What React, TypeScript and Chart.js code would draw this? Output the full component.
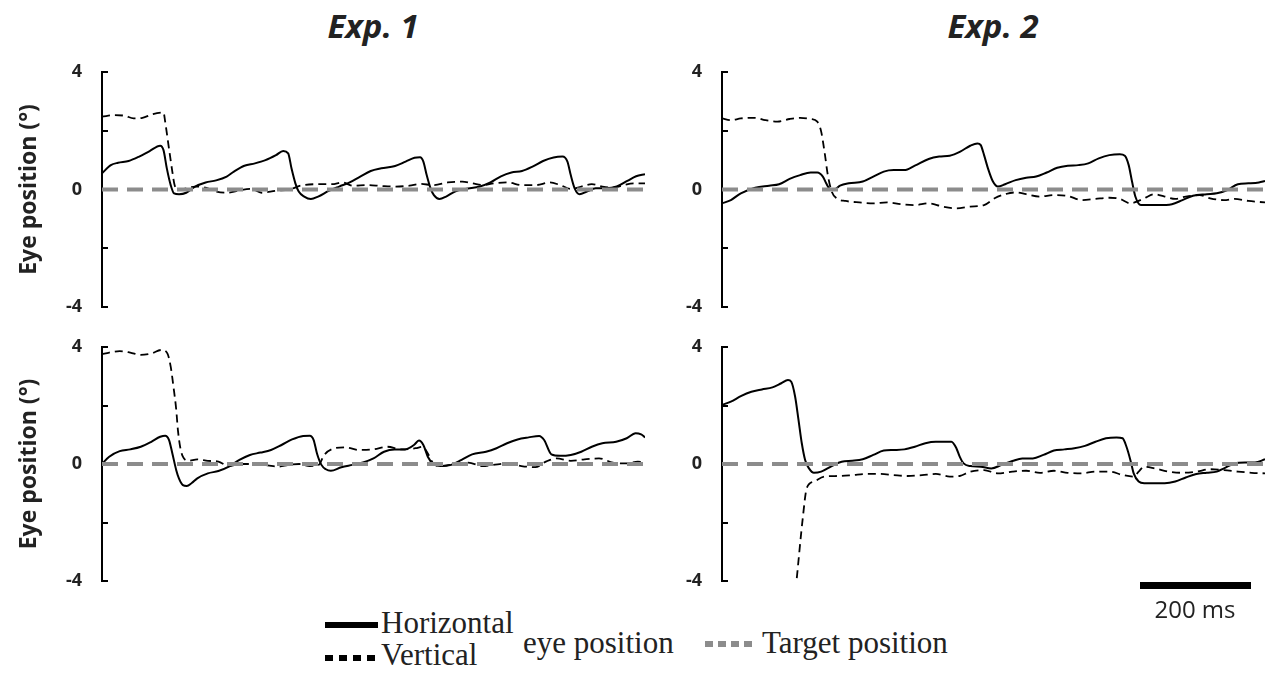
import React, { useEffect, useRef } from 'react';
import { Chart, registerables } from 'chart.js';

Chart.register(...registerables);

// ---------- data (time in ms, eye position in degrees) ----------
const TIME_MAX = 980;
const Y_TICK_VALUES = [4, 2, 0, -2, -4];
const Y_TICK_LABELS: Record<string, string> = { '4': '4', '2': '', '0': '0', '-2': '', '-4': '-4' };
const PANEL_TITLES = ['Exp. 1', 'Exp. 2'];
const Y_TITLE = 'Eye position (°)';
const SCALE_BAR_LABEL = '200 ms';
const LEGEND_LABELS = ['Horizontal', 'Vertical', 'eye position', 'Target position'];

const TARGET_T = [0, 980];
const TARGET_V = [0, 0];

// Exp. 1, top
const E1A_H_T = [0,16,29,48,67,86,105,111,117,124,130,139,152,168,187,206,225,238,257,276,295,314,327,336,342,349,355,365,377,390,409,428,447,466,485,504,529,548,564,574,580,586,593,599,609,621,637,656,682,701,720,739,758,777,796,815,831,840,846,853,862,875,891,910,929,948,964,980];
const E1A_H_V = [0.55,0.83,0.91,0.97,1.12,1.31,1.49,1.34,0.72,0.15,-0.13,-0.16,-0.11,0.1,0.24,0.31,0.44,0.61,0.81,0.89,1.0,1.17,1.31,1.23,0.72,0.21,-0.07,-0.24,-0.32,-0.24,-0.05,0.1,0.24,0.44,0.63,0.72,0.8,0.95,1.08,1.1,0.95,0.49,0.04,-0.19,-0.32,-0.24,-0.07,0.02,0.1,0.24,0.45,0.58,0.63,0.78,0.97,1.09,1.12,0.95,0.49,0.04,-0.16,-0.07,0.04,0.04,0.1,0.29,0.45,0.52];
const E1A_V_T = [0,22,41,57,73,92,111,114,120,127,131,139,152,168,187,206,225,250,269,288,314,339,358,390,415,434,453,479,504,529,555,574,599,624,650,669,688,707,732,758,783,808,827,846,865,884,903,922,941,960,980];
const E1A_V_V = [2.48,2.53,2.51,2.42,2.44,2.57,2.62,2.31,1.51,0.6,0.15,-0.02,0.04,0.1,0.06,-0.07,-0.11,-0.02,0.02,-0.11,-0.04,0,0.13,0.18,0.18,0.24,0.13,0.15,0.12,0.1,0.13,0.19,0.15,0.24,0.27,0.21,0.15,0.21,0.24,0.15,0.15,0.24,0.15,0.02,0.1,0.18,0.1,0.06,0.15,0.21,0.21];

// Exp. 2, top
const E2A_H_T = [0,16,34,60,85,103,122,141,160,172,182,188,194,201,213,229,254,273,292,310,329,348,373,392,411,430,448,461,467,473,480,489,498,511,530,549,567,586,605,624,643,661,680,699,718,727,734,740,746,756,768,787,812,831,850,875,893,912,931,950,969,980];
const E2A_H_V = [-0.47,-0.36,-0.13,0.06,0.13,0.18,0.36,0.49,0.58,0.58,0.44,0.21,0.02,-0.02,0.13,0.21,0.27,0.44,0.61,0.66,0.66,0.81,1.04,1.12,1.15,1.29,1.49,1.57,1.51,1.17,0.72,0.27,0.1,0.18,0.32,0.4,0.44,0.58,0.74,0.81,0.83,0.89,1.06,1.17,1.2,1.15,0.83,0.27,-0.24,-0.53,-0.53,-0.53,-0.5,-0.36,-0.21,-0.16,-0.13,-0.02,0.18,0.21,0.24,0.29];
const E2A_V_T = [0,16,34,60,78,100,122,141,160,172,179,185,191,198,207,223,248,273,298,323,348,373,398,423,448,473,492,511,530,549,574,599,624,649,674,699,718,737,749,762,781,799,818,837,862,881,906,925,950,980];
const E2A_V_V = [2.42,2.36,2.42,2.44,2.36,2.31,2.4,2.44,2.4,2.31,1.97,1.29,0.49,-0.07,-0.3,-0.39,-0.44,-0.47,-0.44,-0.5,-0.53,-0.47,-0.58,-0.64,-0.58,-0.53,-0.3,-0.16,-0.1,-0.16,-0.24,-0.19,-0.22,-0.36,-0.32,-0.28,-0.32,-0.47,-0.41,-0.3,-0.16,-0.24,-0.32,-0.24,-0.19,-0.3,-0.36,-0.32,-0.39,-0.44];

// Exp. 1, bottom
const E1B_H_T = [0,13,32,51,70,89,105,114,121,127,134,139,146,153,162,172,191,210,229,248,267,286,305,324,343,363,375,382,388,396,404,413,432,452,471,490,509,528,547,563,572,580,588,598,611,630,649,668,693,712,731,750,770,789,798,811,827,846,865,884,903,928,947,963,973,980];
const E1B_H_V = [0,0.25,0.44,0.5,0.59,0.76,0.93,0.97,0.82,0.36,-0.21,-0.5,-0.72,-0.75,-0.65,-0.49,-0.32,-0.24,-0.09,0.14,0.31,0.39,0.48,0.65,0.84,0.96,0.97,0.82,0.36,-0.03,-0.18,-0.23,-0.11,-0.03,0.05,0.19,0.42,0.5,0.5,0.65,0.8,0.65,0.25,0,-0.07,-0.03,0.14,0.33,0.42,0.54,0.71,0.84,0.91,0.96,0.82,0.33,0.28,0.31,0.42,0.59,0.71,0.76,0.88,1.05,1.01,0.91];
const E1B_V_T = [0,13,32,51,70,89,108,118,124,129,134,137,141,146,156,172,191,210,229,248,273,299,318,337,356,375,391,401,420,439,464,490,515,541,566,579,588,598,614,636,661,687,706,731,757,782,801,820,846,871,897,922,948,967,980];
const E1B_V_V = [3.76,3.81,3.86,3.81,3.73,3.78,3.9,3.78,3.33,2.64,1.85,1.16,0.59,0.25,0.11,0.16,0.11,0.08,-0.07,0,0,-0.05,-0.09,-0.03,0,-0.07,-0.03,0.31,0.54,0.57,0.48,0.5,0.59,0.5,0.54,0.59,0.36,0.02,-0.07,0,0.05,-0.07,-0.03,0.02,-0.07,-0.11,0.08,0.19,0.11,0.16,0.19,0.05,0.02,0.08,0.05];

// Exp. 2, bottom
const E2B_H_T = [0,16,34,53,72,91,107,119,125,132,138,144,150,157,166,179,198,216,235,254,273,292,310,329,348,367,386,404,414,423,429,436,448,467,486,505,524,542,561,580,599,618,636,655,674,693,712,723,730,737,743,752,762,781,799,818,837,856,875,893,906,925,944,962,980];
const E2B_H_V = [2.02,2.13,2.32,2.47,2.55,2.62,2.76,2.87,2.81,2.3,1.52,0.71,0.14,-0.15,-0.3,-0.26,-0.07,0.08,0.11,0.16,0.31,0.46,0.48,0.5,0.59,0.71,0.76,0.76,0.76,0.54,0.25,0.02,-0.07,-0.09,-0.15,-0.03,0.1,0.19,0.19,0.31,0.46,0.5,0.54,0.62,0.76,0.88,0.91,0.88,0.59,0.14,-0.32,-0.6,-0.66,-0.66,-0.66,-0.6,-0.46,-0.34,-0.3,-0.26,-0.15,0.02,0.05,0.05,0.16];
const E2B_V_T = [135,146,153,166,185,210,235,260,285,310,335,361,386,411,429,448,473,498,524,549,574,599,624,649,674,699,724,743,752,762,781,806,831,856,881,906,931,956,980];
const E2B_V_V = [-3.9,-1.81,-0.82,-0.6,-0.43,-0.41,-0.38,-0.34,-0.34,-0.38,-0.41,-0.38,-0.34,-0.43,-0.41,-0.26,-0.21,-0.32,-0.26,-0.23,-0.3,-0.23,-0.3,-0.32,-0.26,-0.26,-0.38,-0.43,-0.26,-0.09,-0.15,-0.26,-0.3,-0.26,-0.18,-0.21,-0.26,-0.3,-0.32];

// ---------- styling ----------
const TEXT_COLOR = '#222';
const TARGET_COLOR = '#8c8c8c';
const SANS = '"Open Sans", "Noto Sans", sans-serif';
const SERIF = '"Liberation Serif", "DejaVu Serif", serif';
const AXIS_W = 102;

const pts = (t: number[], v: number[]) => t.map((x, i) => ({ x, y: v[i] }));

const innerTicks = {
  id: 'innerTicks',
  beforeDatasetsDraw(chart: any) {
    const s = chart.scales.y;
    const ctx = chart.ctx;
    ctx.save();
    ctx.strokeStyle = '#000';
    ctx.lineWidth = 2;
    Y_TICK_VALUES.forEach((v) => {
      const y = Math.round(s.getPixelForValue(v));
      ctx.beginPath();
      ctx.moveTo(s.right, y);
      ctx.lineTo(s.right + 6, y);
      ctx.stroke();
    });
    ctx.restore();
  },
};

type PanelProps = {
  left: number; top: number; width: number; height: number; padRight: number;
  hT: number[]; hV: number[]; vT: number[]; vV: number[]; showTitle: boolean;
};

function Panel(p: PanelProps) {
  const ref = useRef<HTMLCanvasElement>(null);
  useEffect(() => {
    const chart = new Chart(ref.current!, {
      type: 'line',
      data: {
        datasets: [
          {
            data: pts(TARGET_T, TARGET_V),
            borderColor: TARGET_COLOR,
            borderWidth: 4,
            borderDash: [16, 9],
            pointRadius: 0,
            fill: false,
          },
          {
            data: pts(p.hT, p.hV),
            borderColor: '#000',
            borderWidth: 2,
            pointRadius: 0,
            cubicInterpolationMode: 'monotone',
            fill: false,
          },
          {
            data: pts(p.vT, p.vV),
            borderColor: '#000',
            borderWidth: 1.8,
            borderDash: [8, 5],
            pointRadius: 0,
            cubicInterpolationMode: 'monotone',
            fill: false,
          },
        ],
      },
      options: {
        animation: false,
        responsive: false,
        events: [],
        layout: { padding: { top: 14, bottom: 14, left: 0, right: p.padRight } },
        plugins: { legend: { display: false }, tooltip: { enabled: false } },
        scales: {
          x: { type: 'linear', display: false, min: 0, max: TIME_MAX },
          y: {
            type: 'linear',
            min: -4,
            max: 4,
            afterFit: (s: any) => { s.width = AXIS_W; },
            ticks: {
              stepSize: 2,
              padding: 0,
              color: TEXT_COLOR,
              font: { family: SANS, weight: 'bold', size: 18 },
              callback: (v: any) => Y_TICK_LABELS[String(v)] ?? '',
            },
            grid: { display: false, drawTicks: true, tickLength: 20 },
            border: { display: true, color: '#000', width: 2 },
            title: {
              display: p.showTitle,
              text: Y_TITLE,
              color: TEXT_COLOR,
              font: { family: SANS, weight: 'bold', size: 23 },
              padding: { top: 16, bottom: 0 },
            },
          },
        },
      } as any,
      plugins: [innerTicks],
    });
    return () => chart.destroy();
  }, []);
  return (
    <canvas
      ref={ref}
      width={p.width}
      height={p.height}
      style={{ position: 'absolute', left: p.left, top: p.top, width: p.width, height: p.height }}
    />
  );
}

const textBase: React.CSSProperties = { position: 'absolute', whiteSpace: 'nowrap', lineHeight: 1 };

export default function App() {
  return (
    <div style={{ position: 'absolute', left: 0, top: 0, width: 1270, height: 677, background: '#fff', overflow: 'hidden' }}>
      {/* titles */}
      <div style={{ ...textBase, left: 273, width: 200, top: 9, textAlign: 'center', fontFamily: SANS, fontWeight: 700, fontStyle: 'italic', fontSize: 33, color: TEXT_COLOR }}>{PANEL_TITLES[0]}</div>
      <div style={{ ...textBase, left: 893, width: 200, top: 9, textAlign: 'center', fontFamily: SANS, fontWeight: 700, fontStyle: 'italic', fontSize: 33, color: TEXT_COLOR }}>{PANEL_TITLES[1]}</div>

      <Panel left={0} top={58} width={660} height={263} padRight={15} hT={E1A_H_T} hV={E1A_H_V} vT={E1A_V_T} vV={E1A_V_V} showTitle={true} />
      <Panel left={620} top={58} width={650} height={263} padRight={5} hT={E2A_H_T} hV={E2A_H_V} vT={E2A_V_T} vV={E2A_V_V} showTitle={false} />
      <Panel left={0} top={333} width={660} height={262} padRight={15} hT={E1B_H_T} hV={E1B_H_V} vT={E1B_V_T} vV={E1B_V_V} showTitle={true} />
      <Panel left={620} top={333} width={650} height={262} padRight={5} hT={E2B_H_T} hV={E2B_H_V} vT={E2B_V_T} vV={E2B_V_V} showTitle={false} />

      {/* scale bar */}
      <div style={{ position: 'absolute', left: 1140, top: 582, width: 111, height: 7, background: '#000' }} />
      <div style={{ ...textBase, left: 1135, width: 120, top: 597, textAlign: 'center', fontFamily: SANS, fontSize: 24, color: TEXT_COLOR }}>{SCALE_BAR_LABEL}</div>

      {/* legend */}
      <div style={{ position: 'absolute', left: 325, top: 622, width: 53, height: 6, background: '#000' }} />
      {[0, 1, 2, 3].map((i) => (
        <div key={'v' + i} style={{ position: 'absolute', left: 325 + i * 14, top: 655, width: 8, height: 6, background: '#000' }} />
      ))}
      {[0, 1, 2, 3].map((i) => (
        <div key={'t' + i} style={{ position: 'absolute', left: 705 + i * 13, top: 641, width: 8, height: 6, background: TARGET_COLOR }} />
      ))}
      <div style={{ ...textBase, left: 381, top: 607, fontFamily: SERIF, fontSize: 31, color: TEXT_COLOR }}>{LEGEND_LABELS[0]}</div>
      <div style={{ ...textBase, left: 381, top: 639, fontFamily: SERIF, fontSize: 31, color: TEXT_COLOR }}>{LEGEND_LABELS[1]}</div>
      <div style={{ ...textBase, left: 523, top: 627, fontFamily: SERIF, fontSize: 31, color: TEXT_COLOR }}>{LEGEND_LABELS[2]}</div>
      <div style={{ ...textBase, left: 762, top: 627, fontFamily: SERIF, fontSize: 31, color: TEXT_COLOR }}>{LEGEND_LABELS[3]}</div>
    </div>
  );
}
